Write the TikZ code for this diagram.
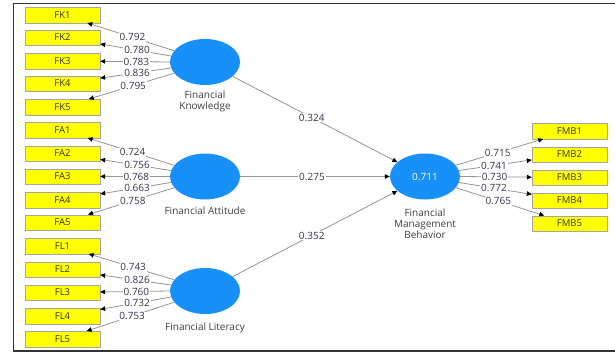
\documentclass[tikz,border=0pt]{standalone}
\usepackage{fontspec}
\setmainfont{Open Sans}
\usetikzlibrary{shapes.geometric}
\usetikzlibrary{arrows.meta}

\definecolor{lvblue}{RGB}{24,144,250}
\definecolor{indyellow}{RGB}{255,255,0}
\definecolor{pathgray}{RGB}{150,150,150}
\definecolor{valtext}{RGB}{60,50,75}

\tikzset{
  ind/.style={draw=gray!70, fill=indyellow, minimum width=75pt, minimum height=15.5pt, inner sep=0pt, text=black!80, font=\fontsize{9.5}{10}\selectfont},
  lv/.style={ellipse, fill=lvblue, minimum width=70pt, minimum height=46pt, inner sep=0pt},
  lvname/.style={align=center, text=black!75, font=\fontsize{10}{11.2}\selectfont},
  load/.style={draw=pathgray, line width=0.8pt, -{Triangle[length=5pt,width=4.5pt,black]}},
  val/.style={fill=white, inner sep=0.8pt, pos=0.48, text=valtext, font=\fontsize{10}{10}\selectfont},
}

\begin{document}
\begin{tikzpicture}[x=1pt,y=-1pt]
  \useasboundingbox (0,0) rectangle (615,353);
  \fill[white] (0,0) rectangle (615,353);
  \draw[line width=1.3pt, black!80] (615,3.5) -- (13.5,3.5) -- (13.5,351) -- (615,351); %% frame, open on the right

  %% latent variables
  \node[lv] (fk) at (205,62) {};
  \node[lv] (fa) at (205,176.5) {};
  \node[lv] (fl) at (205,291) {};
  \node[lv, text=white, font=\fontsize{10}{10}\selectfont] (fmb) at (425,176.5) {0.711};

  \node[lvname] (fkname) at (205,101.5) {Financial\\Knowledge};
  \node[lvname] (faname) at (205,211) {Financial Attitude};
  \node[lvname] (flname) at (205,328) {Financial Literacy};
  \node[lvname] (fmbname) at (425,223.5) {Financial\\Management\\Behavior};

  %% indicators
  \node[ind] (fk1) at (62.5,15) {FK1};
  \node[ind] (fk2) at (62.5,37.5) {FK2};
  \node[ind] (fk3) at (62.5,61) {FK3};
  \node[ind] (fk4) at (62.5,83.5) {FK4};
  \node[ind] (fk5) at (62.5,107) {FK5};

  \node[ind] (fa1) at (62.5,130) {FA1};
  \node[ind] (fa2) at (62.5,153.5) {FA2};
  \node[ind] (fa3) at (62.5,176.5) {FA3};
  \node[ind] (fa4) at (62.5,200) {FA4};
  \node[ind] (fa5) at (62.5,222.5) {FA5};

  \node[ind] (fl1) at (62.5,246) {FL1};
  \node[ind] (fl2) at (62.5,269.5) {FL2};
  \node[ind] (fl3) at (62.5,292.5) {FL3};
  \node[ind] (fl4) at (62.5,316) {FL4};
  \node[ind] (fl5) at (62.5,339) {FL5};

  \node[ind] (fmb1) at (569.5,131) {FMB1};
  \node[ind] (fmb2) at (569.5,154.5) {FMB2};
  \node[ind] (fmb3) at (569.5,177.5) {FMB3};
  \node[ind] (fmb4) at (569.5,200.5) {FMB4};
  \node[ind] (fmb5) at (569.5,223.5) {FMB5};

  %% outer loadings
  \draw[load] (fk.160) -- node[val] {0.792} (fk1);
  \draw[load] (fk.170) -- node[val] {0.780} (fk2);
  \draw[load] (fk.180) -- node[val] {0.783} (fk3);
  \draw[load] (fk.190) -- node[val] {0.836} (fk4);
  \draw[load] (fk.200) -- node[val] {0.795} (fk5);

  \draw[load] (fa.160) -- node[val] {0.724} (fa1);
  \draw[load] (fa.170) -- node[val] {0.756} (fa2);
  \draw[load] (fa.180) -- node[val] {0.768} (fa3);
  \draw[load] (fa.190) -- node[val] {0.663} (fa4);
  \draw[load] (fa.200) -- node[val] {0.758} (fa5);

  \draw[load] (fl.160) -- node[val] {0.743} (fl1);
  \draw[load] (fl.170) -- node[val] {0.826} (fl2);
  \draw[load] (fl.180) -- node[val] {0.760} (fl3);
  \draw[load] (fl.190) -- node[val] {0.732} (fl4);
  \draw[load] (fl.200) -- node[val] {0.753} (fl5);

  \draw[load] (fmb.20) -- node[val] {0.715} (fmb1);
  \draw[load] (fmb.10) -- node[val] {0.741} (fmb2);
  \draw[load] (fmb.0) -- node[val] {0.730} (fmb3);
  \draw[load] (fmb.-10) -- node[val] {0.772} (fmb4);
  \draw[load] (fmb.-20) -- node[val] {0.765} (fmb5);

  %% path coefficients
  \draw[load] (fk) -- node[val] {0.324} (fmb);
  \draw[load] (fa) -- node[val] {0.275} (fmb);
  \draw[load] (fl) -- node[val] {0.352} (fmb);
\end{tikzpicture}
\end{document}
